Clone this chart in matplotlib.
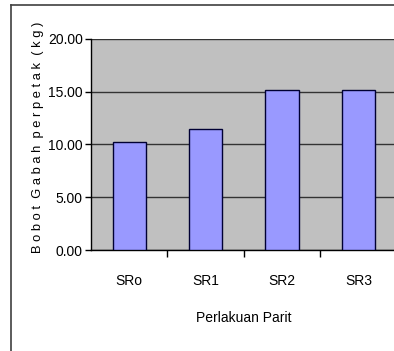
import numpy as np
import matplotlib.pyplot as plt
from matplotlib import font_manager
from matplotlib.lines import Line2D

# Bobot gabah per petak untuk tiap perlakuan parit
perlakuan = ["SRo", "SR1", "SR2", "SR3"]
bobot = [10.25, 11.45, 15.2, 15.2]
y_ticks = [0, 5, 10, 15, 20]

names = {f.name for f in font_manager.fontManager.ttflist}
narrow = "Liberation Sans Narrow" if "Liberation Sans Narrow" in names else "Liberation Sans"

fig = plt.figure(figsize=(3.94, 3.51), dpi=100)
ax = fig.add_axes([0.231, 0.2877, 0.776, 0.6013])

x = np.arange(len(perlakuan))
ax.set_facecolor("#C0C0C0")
ax.set_axisbelow(True)
ax.yaxis.grid(True, color="#333333", linewidth=1.0)
ax.bar(x, bobot, width=0.435, color="#9999FF", edgecolor="#000033", linewidth=1.0, zorder=3)

ax.set_xlim(-0.5, len(perlakuan) - 0.5)
ax.set_ylim(0, 20)
ax.set_yticks(y_ticks)
ax.set_yticklabels([f"{v:.2f}" for v in y_ticks], fontfamily=narrow, fontsize=10)

# category labels centred, tick marks on the category boundaries
ax.set_xticks(x)
ax.set_xticklabels(perlakuan, fontfamily=narrow, fontsize=10)
ax.tick_params(axis="x", length=0, pad=17)
ax.set_xticks(np.arange(0.5, len(perlakuan) - 0.5, 1.0), minor=True)
ax.tick_params(axis="x", which="minor", length=5, width=1, direction="out")
ax.tick_params(axis="y", length=4, width=1, direction="out", pad=2)

for side in ["top", "right"]:
    ax.spines[side].set_visible(False)
for side in ["left", "bottom"]:
    ax.spines[side].set_color("black")
    ax.spines[side].set_linewidth(1.0)

ax.set_xlabel("Perlakuan Parit", fontfamily=narrow, fontsize=10, labelpad=17)
ax.set_ylabel("B o b o t  G a b a h  p e r p e t a k  ( k g )", fontfamily="Liberation Sans",
              fontsize=9.3)
ax.yaxis.set_label_coords(-0.155, 0.535)

# outer chart border
fig.add_artist(Line2D([11 / 394, 1.0], [1 - 5 / 351, 1 - 5 / 351],
                      transform=fig.transFigure, color="#404040", linewidth=1.2))
fig.add_artist(Line2D([11 / 394, 11 / 394], [0.0, 1 - 5 / 351],
                      transform=fig.transFigure, color="#404040", linewidth=1.2))

fig.savefig("out.png", dpi=100)
